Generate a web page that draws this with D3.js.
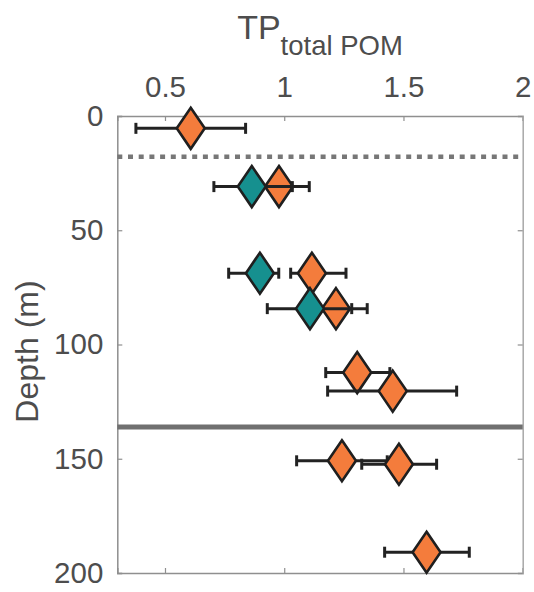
<!DOCTYPE html>
<html>
<head>
<meta charset="utf-8">
<script src="https://cdn.jsdelivr.net/npm/d3@7"></script>
<style>
  html, body { margin: 0; padding: 0; background: #fff; }
  svg { display: block; }
  text { font-family: "Liberation Sans", Arial, Helvetica, sans-serif; fill: #4d4d4d; }
</style>
</head>
<body>
<script>
// Trophic position of total POM against depth, two groups of samples
const orangeDepth = [5.4, 30.9, 68.8, 84.3, 112.3, 120.4, 150.9, 152.4, 190.9];
const orangeTP    = [0.608, 0.978, 1.116, 1.217, 1.306, 1.455, 1.242, 1.481, 1.597];
const orangeLow   = [0.378, 0.852, 1.027, 1.090, 1.174, 1.182, 1.052, 1.325, 1.421];
const orangeHigh  = [0.838, 1.105, 1.259, 1.348, 1.443, 1.723, 1.432, 1.639, 1.776];

const tealDepth = [30.9, 68.8, 84.3];
const tealTP    = [0.864, 0.898, 1.108];
const tealLow   = [0.705, 0.767, 0.929];
const tealHigh  = [1.034, 0.977, 1.283];

const xTicks = [0.5, 1, 1.5, 2];
const yTicks = [0, 50, 100, 150, 200];
const dottedDepth = 17.8;
const solidDepth = 136.1;

const W = 534, H = 592;
const plotL = 117.3, plotR = 522.7, plotT = 116, plotB = 573;

const x = d3.scaleLinear().domain([0.3, 2]).range([plotL, plotR]);
const y = d3.scaleLinear().domain([0, 200]).range([plotT, plotB]);

const svg = d3.select("body").append("svg").attr("width", W).attr("height", H);

const axisColor = "#8f8f8f";
const textColor = "#4a4a4a";
const fontFam = '"Liberation Sans", Arial, sans-serif';

// Axes: ticks point inward, mirrored on all four sides
svg.append("g").attr("transform", `translate(0,${plotT})`)
  .call(d3.axisTop(x).tickValues(xTicks).tickSize(-5).tickFormat(d3.format("")).tickPadding(19))
  .call(g => {
    g.select(".domain").attr("stroke", axisColor).attr("stroke-width", 1.5);
    g.selectAll(".tick line").attr("stroke", axisColor).attr("stroke-width", 1.2);
    g.selectAll("text").attr("font-size", 29.5).attr("fill", textColor).attr("font-family", fontFam);
  });
svg.append("g").attr("transform", `translate(0,${plotB})`)
  .call(d3.axisBottom(x).tickValues(xTicks).tickSize(-5).tickFormat(""))
  .call(g => {
    g.select(".domain").attr("stroke", axisColor).attr("stroke-width", 1.5);
    g.selectAll(".tick line").attr("stroke", axisColor).attr("stroke-width", 1.2);
  });
svg.append("g").attr("transform", `translate(${plotL},0)`)
  .call(d3.axisLeft(y).tickValues(yTicks).tickSize(-5).tickPadding(14))
  .call(g => {
    g.select(".domain").attr("stroke", axisColor).attr("stroke-width", 1.5);
    g.selectAll(".tick line").attr("stroke", axisColor).attr("stroke-width", 1.2);
    g.selectAll("text").attr("font-size", 29.5).attr("fill", textColor).attr("font-family", fontFam);
  });
svg.append("g").attr("transform", `translate(${plotR},0)`)
  .call(d3.axisRight(y).tickValues(yTicks).tickSize(-5).tickFormat(""))
  .call(g => {
    g.select(".domain").attr("stroke", "#a8a8a8").attr("stroke-width", 1.5);
    g.selectAll(".tick line").attr("stroke", axisColor).attr("stroke-width", 1.2);
  });

// Reference depths
svg.append("line")
  .attr("x1", plotL).attr("x2", plotR)
  .attr("y1", y(dottedDepth)).attr("y2", y(dottedDepth))
  .attr("stroke", "#777").attr("stroke-width", 4.5)
  .attr("stroke-dasharray", "5,5.7");
svg.append("line")
  .attr("x1", plotL).attr("x2", plotR)
  .attr("y1", y(solidDepth)).attr("y2", y(solidDepth))
  .attr("stroke", "#707070").attr("stroke-width", 5);

// Title with subscript
const title = svg.append("text")
  .attr("x", (plotL + plotR) / 2).attr("y", 39)
  .attr("text-anchor", "middle").attr("fill", textColor);
title.append("tspan").attr("font-size", 34).text("TP");
title.append("tspan").attr("font-size", 27.5).attr("dy", 16).text("total POM");

// Depth axis label
svg.append("text")
  .attr("transform", `translate(38,${(plotT + plotB) / 2 + 7}) rotate(-90)`)
  .attr("text-anchor", "middle").attr("fill", textColor)
  .attr("font-size", 32)
  .text("Depth (m)");

const hw = 14, hh = 20.5, cap = 5.5;
function drawSeries(depth, tp, lo, hi, fill) {
  const data = depth.map((d, i) => ({ d, v: tp[i], lo: lo[i], hi: hi[i] }));
  const g = svg.append("g");
  const items = g.selectAll("g").data(data).join("g");
  items.append("line")
    .attr("x1", p => x(p.lo)).attr("x2", p => x(p.hi))
    .attr("y1", p => y(p.d)).attr("y2", p => y(p.d))
    .attr("stroke", "#222").attr("stroke-width", 3);
  items.append("line")
    .attr("x1", p => x(p.lo)).attr("x2", p => x(p.lo))
    .attr("y1", p => y(p.d) - cap).attr("y2", p => y(p.d) + cap)
    .attr("stroke", "#222").attr("stroke-width", 3);
  items.append("line")
    .attr("x1", p => x(p.hi)).attr("x2", p => x(p.hi))
    .attr("y1", p => y(p.d) - cap).attr("y2", p => y(p.d) + cap)
    .attr("stroke", "#222").attr("stroke-width", 3);
  items.append("path")
    .attr("d", p => {
      const cx = x(p.v), cy = y(p.d);
      return `M${cx},${cy - hh}L${cx + hw},${cy}L${cx},${cy + hh}L${cx - hw},${cy}Z`;
    })
    .attr("fill", fill).attr("stroke", "#1f1f1f").attr("stroke-width", 2.6)
    .attr("stroke-linejoin", "miter");
}

drawSeries(orangeDepth, orangeTP, orangeLow, orangeHigh, "#f47c3c");
drawSeries(tealDepth, tealTP, tealLow, tealHigh, "#16908f");
</script>
</body>
</html>
